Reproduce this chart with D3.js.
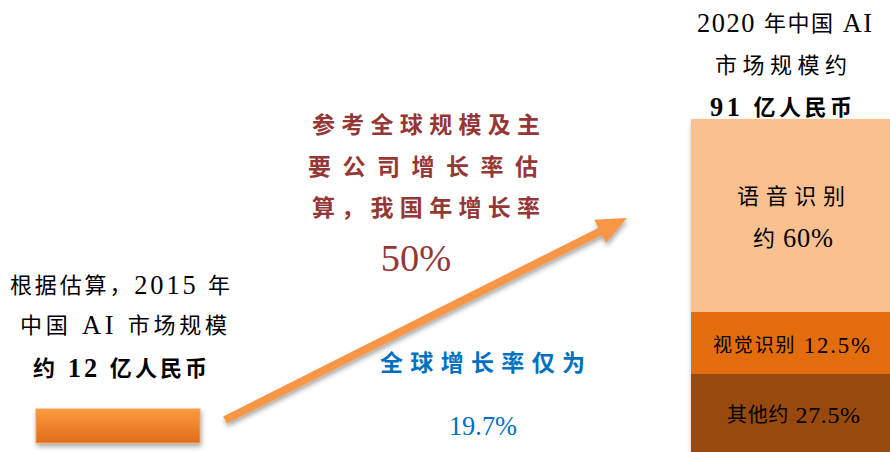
<!DOCTYPE html>
<html>
<head>
<meta charset="utf-8">
<script src="https://cdn.jsdelivr.net/npm/d3@7"></script>
<style>
  body { margin: 0; background: #fff; }
  svg { display: block; }
  text { font-family: "Liberation Serif", "Noto Sans CJK SC", serif; }
</style>
</head>
<body>
<div id="chart"></div>
<script>
// market size (100 million RMB)
const years = ["2015", "2020"];
const marketSize = [12, 91];
// 2020 breakdown
const segments = ["其他", "视觉识别", "语音识别"];
const shares = [27.5, 12.5, 60];
const growthRates = [50, 19.7];

const width = 890, height = 452;

const svg = d3.select("#chart").append("svg")
  .attr("width", width)
  .attr("height", height);

const defs = svg.append("defs");

// soft shadow
const shadow = defs.append("filter").attr("id", "shadow")
  .attr("x", "-20%").attr("y", "-20%").attr("width", "140%").attr("height", "160%");
shadow.append("feDropShadow")
  .attr("dx", 1).attr("dy", 3).attr("stdDeviation", 2.5)
  .attr("flood-color", "#000").attr("flood-opacity", 0.35);

const grad = defs.append("linearGradient").attr("id", "barGrad")
  .attr("x1", 0).attr("y1", 0).attr("x2", 0).attr("y2", 1);
grad.append("stop").attr("offset", "0%").attr("stop-color", "#F99B3E");
grad.append("stop").attr("offset", "100%").attr("stop-color", "#E06C1C");

// 2015 bar
const x2015 = d3.scaleLinear().domain([0, marketSize[0]]).range([36, 200]);
svg.append("rect")
  .datum(marketSize[0])
  .attr("x", x2015(0))
  .attr("y", 409)
  .attr("width", d => x2015(d) - x2015(0))
  .attr("height", 34)
  .attr("fill", "url(#barGrad)")
  .attr("stroke", "#F6A35A")
  .attr("stroke-width", 1)
  .attr("filter", "url(#shadow)");

// 2020 stacked column (not drawn to scale in the original, so piecewise)
const stackData = [Object.fromEntries(segments.map((s, i) => [s, shares[i]]))];
const series = d3.stack().keys(segments)(stackData);
const yStack = d3.scaleLinear()
  .domain([0, shares[0], shares[0] + shares[1], 100])
  .range([456, 374, 312, 119]);
const colors = d3.scaleOrdinal().domain(segments)
  .range(["#984807", "#E36C0A", "#FAC090"]);

const stackG = svg.append("g").attr("filter", "url(#shadow)");
stackG.selectAll("rect")
  .data(series)
  .join("rect")
  .attr("x", 691)
  .attr("width", 210)
  .attr("y", d => yStack(d[0][1]))
  .attr("height", d => yStack(d[0][0]) - yStack(d[0][1]))
  .attr("fill", d => colors(d.key));

// text helper: centred line, latin runs a bit larger (like the original's serif)
function line(txt, x0, x1, y, size, opts = {}) {
  const t = svg.append("text")
    .attr("x", (x0 + x1) / 2)
    .attr("y", y)
    .attr("text-anchor", "middle")
    .attr("dominant-baseline", "central")
    .attr("font-size", size)
    .attr("fill", opts.color || "#000")
    .attr("font-weight", opts.bold ? "bold" : "normal");
  txt.split(/([\x20-\x7E]+)/).filter(s => s.length).forEach(s => {
    const latin = /^[\x20-\x7E]+$/.test(s);
    t.append("tspan")
      .attr("font-size", latin ? size * 1.2 : size)
      .text(s);
  });
  if (opts.fit !== false) {
    t.attr("textLength", x1 - x0).attr("lengthAdjust", "spacing");
  }
  return t;
}

// left annotation
line(`根据估算，${years[0]} 年`, 10, 230, 285, 22);
line("中国 AI 市场规模", 20, 227, 325, 22);
line(`约 ${marketSize[0]} 亿人民币`, 33, 207, 368, 22, { bold: true });

// right annotation
line(`${years[1]} 年中国 AI`, 697, 872, 23, 22);
line("市场规模约", 715, 847, 65, 22);
line(`${marketSize[1]} 亿人民币`, 710, 852, 107, 22, { bold: true });

// segment labels
line(segments[2], 737, 845, 196, 22);
line(`约 ${shares[2]}%`, 753, 833, 238, 22);
line(`${segments[1]} ${shares[1]}%`, 713, 870, 345, 19);
line(`${segments[0]}约 ${shares[0]}%`, 727, 860, 415, 20);

// growth arrow
const a0 = [225, 420], a1 = [627, 218];
const ang = Math.atan2(a1[1] - a0[1], a1[0] - a0[0]);
const headLen = 30, headW = 13;
const base = [a1[0] - headLen * Math.cos(ang), a1[1] - headLen * Math.sin(ang)];
const nx = -Math.sin(ang), ny = Math.cos(ang);
const arrowG = svg.append("g").attr("filter", "url(#shadow)");
arrowG.append("line")
  .attr("x1", a0[0]).attr("y1", a0[1])
  .attr("x2", base[0] + 2 * Math.cos(ang)).attr("y2", base[1] + 2 * Math.sin(ang))
  .attr("stroke", "#F79646")
  .attr("stroke-width", 8);
arrowG.append("path")
  .attr("d", d3.line()([
    a1,
    [base[0] + nx * headW, base[1] + ny * headW],
    [base[0] - nx * headW, base[1] - ny * headW]
  ]) + "Z")
  .attr("fill", "#F79646");

// China growth note
const red = "#953735";
line("参考全球规模及主", 312, 540, 125, 23, { bold: true, color: red });
line("要公司增长率估", 308, 538, 167, 23, { bold: true, color: red });
line("算，我国年增长率", 312, 540, 208, 23, { bold: true, color: red });
line(`${growthRates[0]}%`, 380, 452, 258, 32, { color: red, fit: false });

// global growth note
const blue = "#0070C0";
line("全球增长率仅为", 380, 585, 363, 23, { bold: true, color: blue });
line(`${growthRates[1]}%`, 448, 518, 426, 22, { color: blue, fit: false });
</script>
</body>
</html>
